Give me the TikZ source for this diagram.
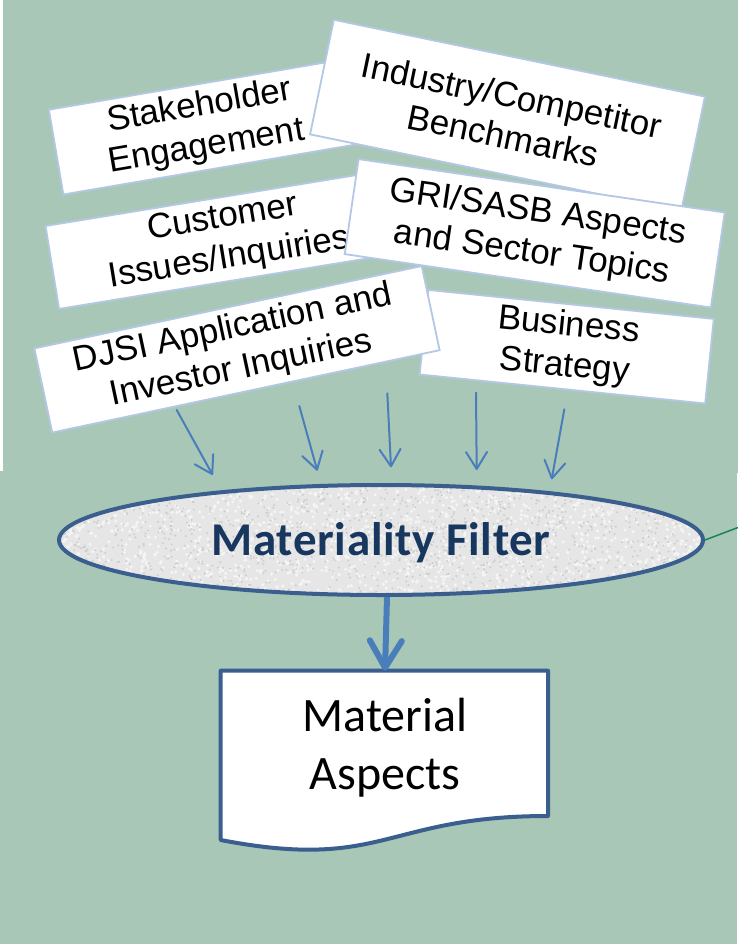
\documentclass[tikz,border=0pt]{standalone}
\usepackage{fontspec}
\setmainfont{Liberation Sans}
\newfontfamily\carlito{Carlito}
\newfontfamily\carlitowide[LetterSpace=1.5]{Carlito}
\usetikzlibrary{arrows.meta,shapes.geometric}

\definecolor{bg}{HTML}{A9C7B7}
\definecolor{boxline}{HTML}{B4C8E6}
\definecolor{arrowblue}{HTML}{4A7EBB}
\definecolor{darkline}{HTML}{3A5E8E}
\definecolor{navy}{HTML}{17375E}
\definecolor{linkgreen}{HTML}{16855C}
\definecolor{grainbase}{HTML}{E6E6E6}
\definecolor{grainlight}{HTML}{F5F5F5}
\definecolor{graindark}{HTML}{CDCDCD}

\begin{document}
\begin{tikzpicture}[x=1pt,y=-1pt,
  inputbox/.style={draw=boxline, line width=1.8pt, fill=white, inner sep=0pt,
    align=center, font=\fontsize{35}{41}\selectfont},
  feed/.style={draw=arrowblue, line width=2pt, line cap=round,
    -{Straight Barb[length=17pt,width=21pt,round]}},
  mainarrow/.style={draw=arrowblue, line width=6pt,
    -{Straight Barb[length=27pt,width=32pt,round]}},
  filterbox/.style={ellipse, draw=darkline, line width=4pt, fill=grainbase,
    inner sep=0pt},
  filtertext/.style={text=navy, font=\carlitowide\bfseries\fontsize{47}{52}\selectfont},
  docline/.style={draw=darkline, line width=4pt, fill=white, line join=round},
]
% canvas
\fill[bg] (0,0) rectangle (738,944);
\useasboundingbox (0,0) rectangle (738,944);
\fill[white] (0,0) rectangle (2.5,471);
\fill[white] (737,473) rectangle (738,944);

% input sources
\node[inputbox, minimum width=298pt, minimum height=86pt, rotate=9.7]
  (stake) at (203,127) {Stakeholder\\Engagement};
\node[inputbox, minimum width=379pt, minimum height=117pt, rotate=-11.7]
  (bench) at (507.5,115.5) {Industry/Competitor\\Benchmarks};
\node[inputbox, minimum width=352pt, minimum height=84pt, rotate=9.3]
  (cust) at (226,239) {Customer\\Issues/Inquiries};
\node[inputbox, minimum width=370pt, minimum height=96pt, rotate=-8.3]
  (gri) at (534.7,233.3) {GRI/SASB Aspects\\and Sector Topics};
\node[inputbox, minimum width=287pt, minimum height=85pt, rotate=-5.8]
  (strat) at (566.7,346.7) {Business\\Strategy};
\node[inputbox, minimum width=396pt, minimum height=86pt, rotate=12]
  (djsi) at (237,349.3) {DJSI Application and\\Investor Inquiries};

% feed arrows
\coordinate (f1s) at (176.7,410);   \coordinate (f1e) at (212.7,475);
\coordinate (f2s) at (299.3,406);   \coordinate (f2e) at (317.3,470.7);
\coordinate (f3s) at (387.3,393.3); \coordinate (f3e) at (391,467.3);
\coordinate (f4s) at (476,392.7);   \coordinate (f4e) at (476.7,470);
\coordinate (f5s) at (564.3,409.3); \coordinate (f5e) at (551.7,479.3);
\foreach \k in {1,...,5} \draw[feed] (f\k s) -- (f\k e);

% filter with a speckled fill
\node[filterbox, minimum width=644pt, minimum height=110pt,
  path picture={
    \pgfmathsetseed{11}
    \foreach \k in {1,...,1600}{
      \pgfmathsetmacro\gx{rand*330}
      \pgfmathsetmacro\gy{rand*60}
      \fill[grainlight] ([shift={(\gx pt,\gy pt)}]path picture bounding box.center) circle (1.7pt);
    }
    \foreach \k in {1,...,1400}{
      \pgfmathsetmacro\gx{rand*330}
      \pgfmathsetmacro\gy{rand*60}
      \fill[graindark] ([shift={(\gx pt,\gy pt)}]path picture bounding box.center) circle (1.1pt);
    }
  }] (filt) at (381,540) {};
\node[filtertext] (filtlabel) at (381,543) {Materiality Filter};

\coordinate (gend) at (738,527.5);
\draw[linkgreen, line width=1.5pt] (filt.east) -- (gend);

% output document
\coordinate (doctop) at (385,670.7);
\path[docline] (220.7,670.7) -- (548,670.7) -- (548,816)
  .. controls (384.35,816) and (384.35,871.5) .. (220.7,840) -- cycle;
\node[font=\carlito\fontsize{48}{58}\selectfont, align=center]
  (doctxt) at (385,748) {Material\\Aspects};

\draw[mainarrow] ([xshift=6pt]filt.south) -- (doctop);
\end{tikzpicture}
\end{document}
